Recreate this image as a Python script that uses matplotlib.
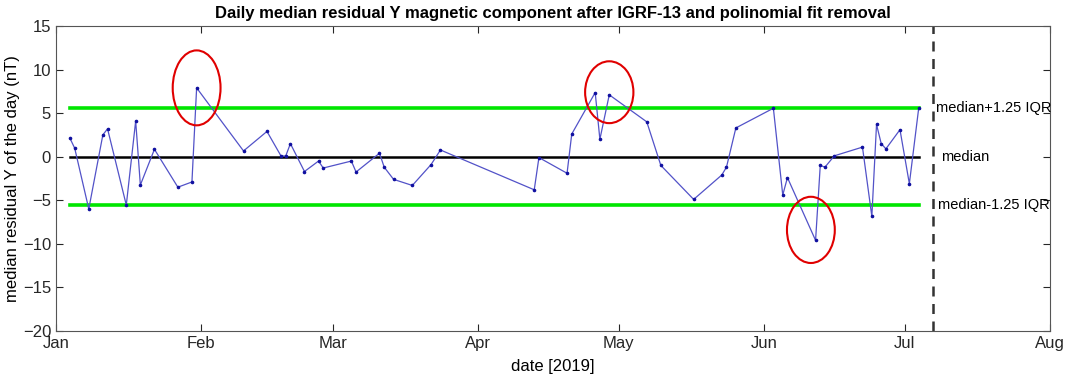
import matplotlib
matplotlib.use("Agg")
from matplotlib import pyplot as plt
import matplotlib.dates as mdates
from matplotlib.patches import Ellipse
import numpy as np
import pandas as pd

# daily median residual Y (nT)
dates = [
    "2019-01-04", "2019-01-05", "2019-01-08", "2019-01-11", "2019-01-12", "2019-01-16",
    "2019-01-18", "2019-01-19", "2019-01-22", "2019-01-27", "2019-01-30", "2019-01-31",
    "2019-02-10", "2019-02-15", "2019-02-18", "2019-02-19", "2019-02-20", "2019-02-23",
    "2019-02-26", "2019-02-27", "2019-03-05", "2019-03-06", "2019-03-11", "2019-03-12",
    "2019-03-14", "2019-03-18", "2019-03-22", "2019-03-24", "2019-04-13", "2019-04-14",
    "2019-04-20", "2019-04-21", "2019-04-26", "2019-04-27", "2019-04-29", "2019-05-07",
    "2019-05-10", "2019-05-17", "2019-05-23", "2019-05-24", "2019-05-26", "2019-06-03",
    "2019-06-05", "2019-06-06", "2019-06-12", "2019-06-13", "2019-06-14", "2019-06-16",
    "2019-06-22", "2019-06-24", "2019-06-25", "2019-06-26", "2019-06-27", "2019-06-30",
    "2019-07-02", "2019-07-04",
]
values = [
    2.1, 0.97, -6.0, 2.5, 3.2, -5.55,
    4.1, -3.25, 0.85, -3.5, -2.9, 7.9,
    0.66, 2.9, 0.08, 0.08, 1.5, -1.7,
    -0.5, -1.3, -0.5, -1.76, 0.4, -1.2,
    -2.6, -3.3, -0.9, 0.77, -3.8, -0.1,
    -1.9, 2.6, 7.36, 2.0, 7.1, 4.0,
    -1.0, -4.9, -2.1, -1.2, 3.3, 5.56,
    -4.4, -2.4, -9.6, -1.0, -1.2, 0.1,
    1.1, -6.85, 3.7, 1.5, 0.9, 3.1,
    -3.1, 5.6,
]
median_val = 0.0
upper_val = 5.6
lower_val = -5.6
cut_date = "2019-07-07"

# highlighted anomalies: center date, center value, width (days), height (nT)
ell_dates = ["2019-01-31", "2019-04-29", "2019-06-11"]
ell_values = [7.9, 7.4, -8.4]
ell_widths = [10.2, 10.3, 10.2]
ell_heights = [8.6, 7.1, 7.6]

month_ticks = ["2019-01-01", "2019-02-01", "2019-03-01", "2019-04-01",
               "2019-05-01", "2019-06-01", "2019-07-01", "2019-08-01"]

narrow = ["Liberation Sans Narrow", "Liberation Sans", "DejaVu Sans"]
plt.rcParams["font.family"] = ["Liberation Sans", "DejaVu Sans"]

t = pd.to_datetime(dates)
fig = plt.figure(figsize=(10.72, 3.88), dpi=100)
ax = fig.add_axes([0.0522, 0.147, 0.9273, 0.786])

ax.plot([t[0], t[-1]], [upper_val, upper_val], color="#00e600", lw=2.6, zorder=2)
ax.plot([t[0], t[-1]], [lower_val, lower_val], color="#00e600", lw=2.6, zorder=2)
ax.plot([t[0], t[-1]], [median_val, median_val], color="black", lw=1.8, zorder=2)
ax.plot(t, values, color="#5252c8", lw=0.9, marker="o", markersize=1.6,
        markerfacecolor="#1010a0", markeredgecolor="#1010a0", zorder=3)
ax.axvline(pd.Timestamp(cut_date), color="#333333", lw=1.8, ls=(0, (4, 3)), zorder=2)

for d, v, w, h in zip(ell_dates, ell_values, ell_widths, ell_heights):
    ax.add_patch(Ellipse((mdates.date2num(pd.Timestamp(d)), v), w, h,
                         fill=False, edgecolor="#e00000", lw=1.5, zorder=4))

cx = pd.Timestamp(cut_date)
ax.annotate("median+1.25 IQR", (cx, upper_val), xytext=(2, 0), textcoords="offset points",
            va="center", ha="left", fontsize=10.5, annotation_clip=False)
ax.annotate("median", (cx, median_val), xytext=(6, 0), textcoords="offset points",
            va="center", ha="left", fontsize=10.5, annotation_clip=False)
ax.annotate("median-1.25 IQR", (cx, lower_val), xytext=(4, 0), textcoords="offset points",
            va="center", ha="left", fontsize=10.5, annotation_clip=False)

ax.set_xlim(pd.Timestamp(month_ticks[0]), pd.Timestamp(month_ticks[-1]))
ax.set_ylim(-20, 15)
ax.set_xticks(pd.to_datetime(month_ticks))
ax.set_xticklabels(pd.to_datetime(month_ticks).strftime("%b"), fontsize=12, family=narrow)
ax.set_yticks(np.arange(-20, 16, 5))
ax.tick_params(axis="y", labelsize=12)
ax.tick_params(direction="in", top=True, right=True, length=5, width=0.8, colors="#262626")
for s in ax.spines.values():
    s.set_color("#555555")
    s.set_linewidth(0.8)

ax.set_xlabel("date [2019]", fontsize=12, family=narrow, labelpad=6)
ax.set_ylabel("median residual Y of the day (nT)", fontsize=12, labelpad=2)
ax.set_title("Daily median residual Y magnetic component after IGRF-13 and polinomial fit removal",
             fontsize=12, fontweight="bold", family=narrow, pad=6)

fig.savefig("out.png", dpi=100)
